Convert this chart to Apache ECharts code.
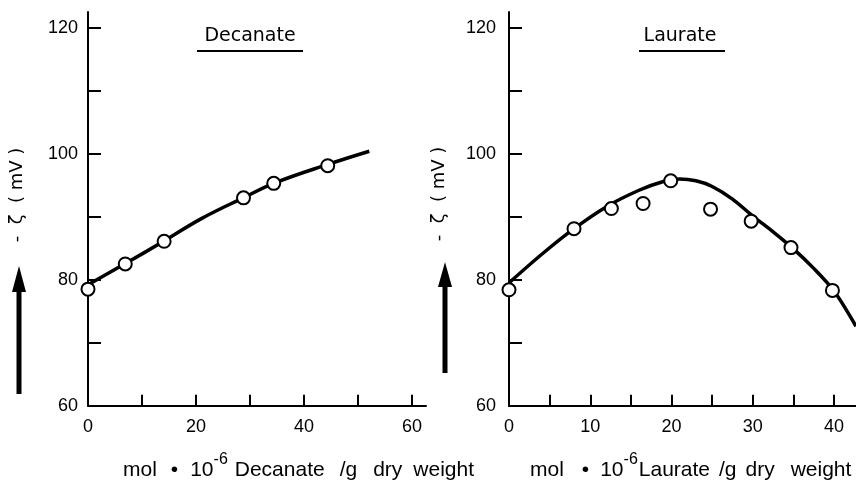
<!DOCTYPE html>
<html>
<head>
<meta charset="utf-8">
<script src="https://cdn.jsdelivr.net/npm/echarts@6/dist/echarts.min.js"></script>
<style>html,body{margin:0;padding:0;background:#fff}#c{width:856px;height:480px}</style>
</head>
<body>
<div id="c"></div>
<script>
// ---- Data ----
var decX = [0, 6.9, 14.1, 28.8, 34.4, 44.4];
var decY = [78.5, 82.5, 86.1, 93.0, 95.3, 98.1];
var decCurveX = [0, 7, 14, 21, 29, 34.4, 44.4, 52.1];
var decCurveY = [79.2, 82.6, 86.1, 89.7, 93.1, 95.3, 98.3, 100.4];

var lauX = [0, 8.0, 12.6, 16.5, 19.9, 24.8, 29.8, 34.7, 39.8];
var lauY = [78.4, 88.1, 91.3, 92.1, 95.7, 91.2, 89.3, 85.1, 78.3];
var lauCurveX = [0, 4, 8, 12, 16, 19, 21, 23, 25, 27.5, 30, 32.5, 35, 37.5, 40, 42.7];
var lauCurveY = [79.5, 84.0, 88.1, 91.6, 94.2, 95.6, 96.0, 95.7, 94.8, 92.8, 90.1, 87.6, 84.9, 81.8, 78.2, 72.6];

var yTicks = [60, 70, 80, 90, 100, 110, 120];
var yLabels = [60, 80, 100, 120];
var decXTicks = [10, 20, 30, 40, 50, 60];
var decXLabels = [0, 20, 40, 60];
var lauXTicks = [5, 10, 15, 20, 25, 30, 35, 40];
var lauXLabels = [0, 10, 20, 30, 40];

var titles = ['Decanate', 'Laurate'];
var yName = '-  ζ  ( mV )';
// axis-name pieces: [text, left gap in px, superscript?]
var decName = [['mol', 0], ['•', 14], ['10', 12], ['-6', 0, true], ['Decanate', 7], ['/g', 15], ['dry', 16], ['weight', 11]];
var lauName = [['mol', 0], ['•', 18], ['10', 11], ['-6', 0, true], ['Laurate', 1], ['/g', 9], ['dry', 9], ['weight', 16]];

function zip(a, b) { return a.map(function (v, i) { return [v, b[i]]; }); }

var FONT = 'Liberation Sans';
var TFONT = 'DejaVu Sans';
var axisLineStyle = { color: '#000', width: 2 };

function yAxis(gi) {
  return {
    type: 'value', gridIndex: gi, min: 60, max: 122.5,
    axisLine: { show: true, lineStyle: axisLineStyle },
    axisTick: { show: true, inside: true, length: 13, lineStyle: { color: '#000', width: 2 }, customValues: yTicks },
    axisLabel: { color: '#000', fontFamily: FONT, fontSize: 18, margin: gi === 0 ? 10 : 13, customValues: yLabels },
    splitLine: { show: false }
  };
}
function xAxis(gi, max, ticks, labels) {
  return {
    type: 'value', gridIndex: gi, min: 0, max: max,
    axisLine: { show: true, onZero: false, lineStyle: axisLineStyle },
    axisTick: { show: true, inside: true, length: 11, lineStyle: { color: '#000', width: 2 }, customValues: ticks },
    axisLabel: { color: '#000', fontFamily: FONT, fontSize: 18, margin: 12, customValues: labels },
    splitLine: { show: false }
  };
}

var circle = { symbol: 'circle', symbolSize: 13, itemStyle: { color: '#fff', borderColor: '#000', borderWidth: 2, opacity: 1 } };

function arrow(cx, tip, base, bottom) {
  return [
    { type: 'rect', shape: { x: cx - 2.5, y: base - 2, width: 5, height: bottom - base + 2 }, style: { fill: '#000' } },
    { type: 'polygon', shape: { points: [[cx - 7, base], [cx + 7, base], [cx, tip]] }, style: { fill: '#000' } }
  ];
}

function axisName(x, y, parts) {
  var text = '', rich = {};
  parts.forEach(function (p, i) {
    var key = 't' + i;
    text += '{' + key + '|' + p[0] + '}';
    rich[key] = p[2]
      ? { fontFamily: FONT, fontSize: 16, lineHeight: 17, verticalAlign: 'top', fill: '#000', padding: [5, 0, 0, p[1]] }
      : { fontFamily: FONT, fontSize: 21, lineHeight: 34, verticalAlign: 'bottom', fill: '#000', padding: [0, 0, 0, p[1]] };
  });
  return { type: 'text', x: x, y: y, style: { text: text, rich: rich, align: 'left', verticalAlign: 'middle', fill: '#000' } };
}
function yNameText(cx, cy) {
  return {
    type: 'text', x: cx, y: cy, rotation: Math.PI / 2,
    style: { text: yName, align: 'center', verticalAlign: 'middle', fontFamily: TFONT, fontSize: 18, fill: '#000' }
  };
}

var titleStyle = { fontFamily: TFONT, fontSize: 19, fontWeight: 'normal', color: '#000' };

var option = {
  backgroundColor: '#fff',
  animation: false,
  title: [
    { text: titles[0], left: 250, top: 27, padding: 0, textAlign: 'center', textStyle: titleStyle },
    { text: titles[1], left: 680, top: 27, padding: 0, textAlign: 'center', textStyle: titleStyle }
  ],
  grid: [
    { left: 88, width: 338, top: 12, bottom: 74.3, containLabel: false },
    { left: 509, right: 0, top: 12, bottom: 74.3, containLabel: false }
  ],
  xAxis: [xAxis(0, 62.6, decXTicks, decXLabels), xAxis(1, 42.7, lauXTicks, lauXLabels)],
  yAxis: [yAxis(0), yAxis(1)],
  series: [
    { type: 'line', xAxisIndex: 0, yAxisIndex: 0, data: zip(decCurveX, decCurveY), smooth: 0.4, showSymbol: false, lineStyle: { color: '#000', width: 3.5 }, z: 2 },
    Object.assign({ type: 'scatter', xAxisIndex: 0, yAxisIndex: 0, data: zip(decX, decY), z: 3 }, circle),
    { type: 'line', xAxisIndex: 1, yAxisIndex: 1, data: zip(lauCurveX, lauCurveY), smooth: 0.3, showSymbol: false, lineStyle: { color: '#000', width: 3.5 }, z: 2 },
    Object.assign({ type: 'scatter', xAxisIndex: 1, yAxisIndex: 1, data: zip(lauX, lauY), z: 3 }, circle)
  ],
  graphic: [
    { type: 'line', shape: { x1: 197, y1: 51, x2: 303, y2: 51 }, style: { stroke: '#000', lineWidth: 2 } },
    { type: 'line', shape: { x1: 639, y1: 51, x2: 725, y2: 51 }, style: { stroke: '#000', lineWidth: 2 } },
    yNameText(17, 195), yNameText(439, 194),
    axisName(123, 464, decName),
    axisName(530, 464, lauName)
  ].concat(arrow(19, 266, 292, 394), arrow(445, 262, 287, 373))
};

var chart = echarts.init(document.getElementById('c'), null, { renderer: 'canvas' });
chart.setOption(option);
</script>
</body>
</html>
